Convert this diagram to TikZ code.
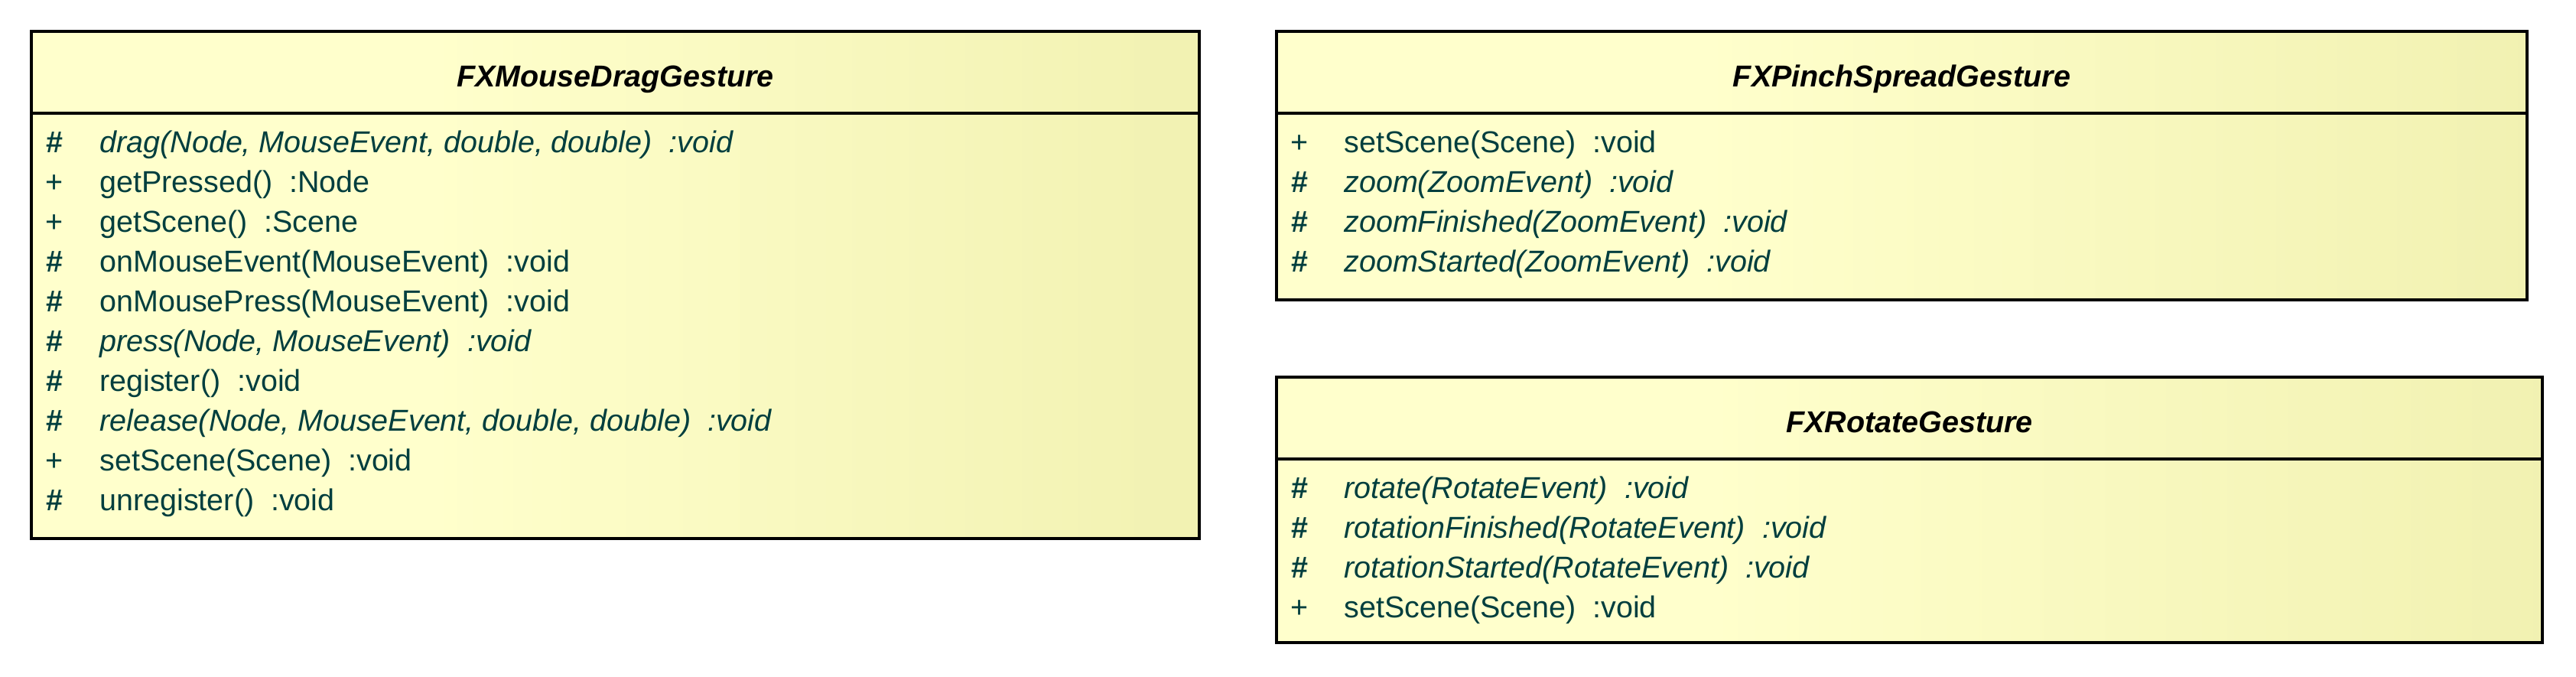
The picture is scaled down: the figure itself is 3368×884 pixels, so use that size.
\documentclass[tikz,border=0pt]{standalone}
\usepackage{fontspec}
\setmainfont{Liberation Sans}
\definecolor{umlA}{RGB}{255,255,204}
\definecolor{umlB}{RGB}{231,231,158}
\definecolor{optext}{RGB}{0,62,62}
\pgfdeclarehorizontalshading{umlfill}{100bp}{color(0bp)=(umlA); color(42bp)=(umlA); color(100bp)=(umlB)}
\tikzset{
  umlbox/.style={shading=umlfill},
  umlline/.style={draw=black, line width=1.75pt},
  umltitle/.style={anchor=base, inner sep=0pt, font=\fontsize{19.75pt}{23pt}\selectfont\bfseries\itshape, text=black},
  opname/.style={anchor=base west, inner sep=0pt, font=\fontsize{19.75pt}{23pt}\selectfont, text=optext},
  opabs/.style={opname, font=\fontsize{19.75pt}{23pt}\selectfont\itshape},
  vis/.style={anchor=base, inner sep=0pt, font=\fontsize{19.75pt}{23pt}\selectfont, text=optext},
  visp/.style={vis, font=\fontsize{19.75pt}{23pt}\selectfont\bfseries}
}
\begin{document}
\begin{tikzpicture}[x=0.5pt, y=-0.5pt]
\useasboundingbox (0,0) rectangle (3368,884);
% ---------- FXMouseDragGesture ----------
\path[umlbox] (41,41) rectangle (1568,704);
\draw[umlline] (41,41) rectangle (1568,704);
\draw[umlline] (41,148) -- (1568,148);
\node[umltitle] (t1) at (804.5,113) {FXMouseDragGesture};
\node[visp] (a-s0) at (71,199) {\#};
\node[vis]  (a-s1) at (71,251) {+};
\node[vis]  (a-s2) at (71,303) {+};
\node[visp] (a-s3) at (71,355) {\#};
\node[visp] (a-s4) at (71,407) {\#};
\node[visp] (a-s5) at (71,459) {\#};
\node[visp] (a-s6) at (71,511) {\#};
\node[visp] (a-s7) at (71,563) {\#};
\node[vis]  (a-s8) at (71,615) {+};
\node[visp] (a-s9) at (71,667) {\#};
\node[opabs]  (a-o0) at (130,199) {drag(Node, MouseEvent, double, double)~~:void};
\node[opname] (a-o1) at (130,251) {getPressed()~~:Node};
\node[opname] (a-o2) at (130,303) {getScene()~~:Scene};
\node[opname] (a-o3) at (130,355) {onMouseEvent(MouseEvent)~~:void};
\node[opname] (a-o4) at (130,407) {onMousePress(MouseEvent)~~:void};
\node[opabs]  (a-o5) at (130,459) {press(Node, MouseEvent)~~:void};
\node[opname] (a-o6) at (130,511) {register()~~:void};
\node[opabs]  (a-o7) at (130,563) {release(Node, MouseEvent, double, double)~~:void};
\node[opname] (a-o8) at (130,615) {setScene(Scene)~~:void};
\node[opname] (a-o9) at (130,667) {unregister()~~:void};
% ---------- FXPinchSpreadGesture ----------
\path[umlbox] (1669,41) rectangle (3304,392);
\draw[umlline] (1669,41) rectangle (3304,392);
\draw[umlline] (1669,148) -- (3304,148);
\node[umltitle] (t2) at (2486.5,113) {FXPinchSpreadGesture};
\node[vis]  (b-s0) at (1699,199) {+};
\node[visp] (b-s1) at (1699,251) {\#};
\node[visp] (b-s2) at (1699,303) {\#};
\node[visp] (b-s3) at (1699,355) {\#};
\node[opname] (b-o0) at (1757,199) {setScene(Scene)~~:void};
\node[opabs]  (b-o1) at (1757,251) {zoom(ZoomEvent)~~:void};
\node[opabs]  (b-o2) at (1757,303) {zoomFinished(ZoomEvent)~~:void};
\node[opabs]  (b-o3) at (1757,355) {zoomStarted(ZoomEvent)~~:void};
% ---------- FXRotateGesture ----------
\path[umlbox] (1669,493) rectangle (3324,840);
\draw[umlline] (1669,493) rectangle (3324,840);
\draw[umlline] (1669,600) -- (3324,600);
\node[umltitle] (t3) at (2496.5,565) {FXRotateGesture};
\node[visp] (c-s0) at (1699,651) {\#};
\node[visp] (c-s1) at (1699,703) {\#};
\node[visp] (c-s2) at (1699,755) {\#};
\node[vis]  (c-s3) at (1699,807) {+};
\node[opabs]  (c-o0) at (1757,651) {rotate(RotateEvent)~~:void};
\node[opabs]  (c-o1) at (1757,703) {rotationFinished(RotateEvent)~~:void};
\node[opabs]  (c-o2) at (1757,755) {rotationStarted(RotateEvent)~~:void};
\node[opname] (c-o3) at (1757,807) {setScene(Scene)~~:void};
\end{tikzpicture}
\end{document}
